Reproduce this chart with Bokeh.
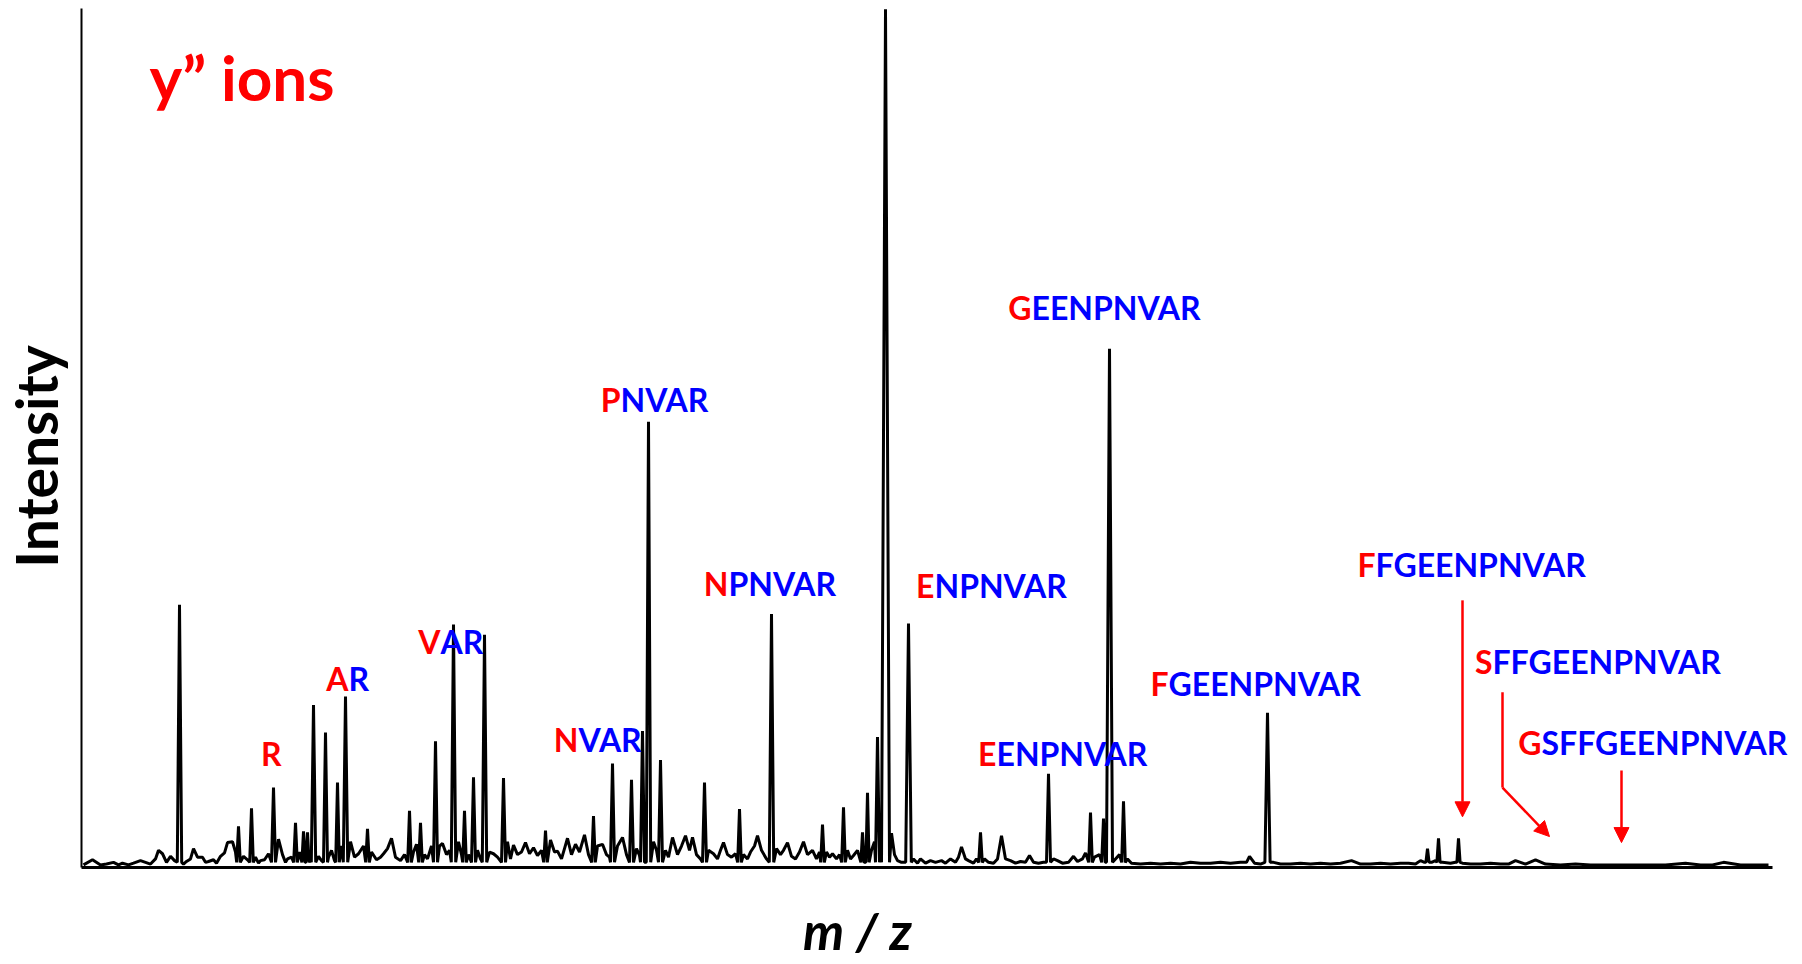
import math
from bokeh.plotting import figure
from bokeh.models import (Range1d, ColumnDataSource, LabelSet, Arrow, NormalHead,
                          LinearAxis, FixedTicker)
from bokeh.core.properties import value
from bokeh.embed import file_html
from bokeh.resources import INLINE

# ---------------- data (m/z axis in arbitrary units, intensity in % of base peak) ----------
# prominent peaks: centre, relative intensity, half-width of the profile peak
peak_mz = [98, 157, 170, 192, 214, 222, 226, 232, 244, 256, 264, 286, 328, 339, 354, 372,
           383, 392, 403, 422, 464, 512, 531, 550, 561, 567, 579, 623, 658, 690, 741, 762,
           781, 786, 796, 804, 827, 899, 967, 1009, 1022, 1028, 1042, 1186, 1346, 1357, 1377]
peak_int = [30.6, 4.8, 6.9, 9.3, 5.2, 4.2, 4.1, 18.9, 15.7, 9.9, 19.9, 4.5, 6.6, 5.2, 14.7, 28.3,
            6.6, 10.5, 27.1, 10.4, 4.3, 6.0, 12.1, 10.2, 15.9, 51.9, 12.5, 9.9, 6.8, 29.5, 5.0, 7.0,
            4.1, 8.7, 15.2, 99.9, 28.4, 4.1, 10.9, 6.4, 5.7, 60.4, 7.7, 18.0, 2.2, 3.4, 3.4]
peak_hw = [2.2, 1.8, 1.8, 2.0, 1.8, 1.6, 1.6, 2.2, 2.0, 1.8, 2.2, 1.8, 1.8, 1.8, 2.0, 2.2,
           1.8, 2.0, 2.2, 2.0, 1.8, 1.8, 2.0, 2.0, 2.0, 2.2, 2.0, 2.0, 1.8, 2.2, 1.8, 1.8,
           1.6, 1.6, 2.0, 4.0, 2.8, 1.8, 2.0, 1.8, 1.8, 3.0, 1.8, 2.6, 1.6, 1.6, 1.6]

# low-level chemical noise between the peaks
noise_mz = [2, 11, 19, 25, 32, 37, 41, 47, 52, 59, 64, 69, 74, 77, 81, 85, 89, 93,
            102, 105, 109, 112, 116, 121, 124, 127, 132, 135, 139, 143, 146, 151, 154,
            162, 166, 174, 177, 179, 183, 187, 197, 201, 204, 206, 210, 218, 229, 237, 240,
            247, 250, 253, 260, 269, 273, 277, 282, 290, 295, 299, 302, 306, 310, 314, 319,
            323, 332, 335, 343, 346, 350, 358, 361, 365, 368, 377, 380, 387, 396, 399, 408,
            412, 416, 426, 429, 432, 436, 440, 444, 448, 452, 456, 460, 469, 473, 476, 480,
            483, 486, 490, 494, 498, 503, 507, 516, 521, 525, 528, 536, 541, 545, 555, 558,
            572, 575, 584, 587, 591, 596, 600, 604, 608, 611, 615, 619, 627, 632, 636, 639,
            642, 646, 650, 654, 662, 666, 669, 673, 676, 680, 685, 695, 699, 702, 706, 710,
            714, 718, 722, 726, 731, 735, 738, 745, 748, 751, 755, 758, 766, 769, 772, 776,
            790, 793, 799, 810, 813, 816, 820, 832, 836, 839, 844, 849, 854, 860, 864, 869,
            874, 877, 880, 884, 887, 892, 895, 903, 907, 912, 916, 920, 924, 929, 934, 939,
            944, 948, 952, 957, 962, 972, 976, 981, 987, 992, 996, 1001, 1004, 1013, 1018,
            1034, 1038, 1046, 1050, 1059, 1069, 1079, 1089, 1099, 1109, 1119, 1129, 1139,
            1149, 1159, 1165, 1168, 1173, 1179, 1192, 1199, 1209, 1219, 1229, 1239, 1249,
            1259, 1270, 1279, 1289, 1299, 1309, 1319, 1327, 1334, 1339, 1343, 1350, 1354,
            1361, 1369, 1374, 1381, 1389, 1399, 1409, 1419, 1427, 1434, 1444, 1454, 1464,
            1479, 1494, 1509, 1524, 1539, 1554, 1569, 1584, 1604, 1619, 1631, 1642, 1659,
            1674, 1687]
noise_int = [0.3, 0.9, 0.3, 0.4, 0.6, 0.3, 0.5, 0.3, 0.5, 0.8, 0.6, 0.4, 1.0, 2.0, 1.6, 0.6, 1.3, 0.8,
             0.4, 0.7, 1.0, 2.2, 1.2, 1.2, 0.6, 0.7, 0.9, 0.5, 1.3, 1.7, 2.9, 3.0, 1.8,
             1.3, 0.9, 1.2, 0.5, 0.8, 0.9, 1.6, 3.3, 1.5, 0.6, 1.0, 1.2, 1.8, 1.0, 1.3, 0.8,
             1.2, 2.0, 0.8, 2.5, 3.0, 1.2, 1.6, 2.5, 1.8, 0.9, 1.2, 1.6, 2.2, 3.4, 1.2, 0.8,
             1.5, 1.8, 2.7, 1.5, 1.0, 2.5, 2.5, 2.8, 1.5, 2.0, 3.0, 1.5, 1.5, 2.0, 1.0, 1.8,
             1.6, 1.2, 3.0, 1.0, 2.6, 1.5, 1.8, 2.9, 1.6, 2.3, 1.4, 2.0, 3.2, 1.8, 1.9, 1.0,
             2.2, 3.4, 1.5, 2.7, 1.8, 3.8, 1.5, 2.5, 2.7, 1.5, 1.2, 2.5, 3.5, 1.5, 2.2, 1.4,
             3.0, 2.0, 2.0, 1.2, 3.5, 1.5, 2.5, 3.7, 2.0, 3.5, 1.5, 1.0, 2.0, 1.6, 1.0, 2.0,
             2.9, 1.5, 1.2, 1.6, 1.5, 1.0, 1.8, 2.5, 3.7, 2.0, 1.0, 2.2, 1.5, 2.0, 2.9, 1.3,
             1.0, 1.8, 3.0, 1.5, 2.0, 1.0, 1.8, 1.8, 1.2, 1.6, 1.0, 1.5, 2.0, 1.0, 1.4, 2.0,
             2.0, 3.0, 3.0, 4.0, 1.5, 0.8, 0.6, 1.0, 0.5, 1.0, 0.5, 0.8, 0.6, 0.8, 0.5, 1.0,
             0.6, 1.2, 2.4, 1.0, 0.8, 0.5, 1.0, 1.0, 0.6, 0.5, 1.0, 3.7, 1.0, 0.8, 0.5, 0.7,
             0.6, 1.4, 0.6, 0.5, 0.6, 1.0, 0.8, 0.5, 0.6, 1.3, 0.7, 1.0, 1.7, 1.2, 1.5,
             1.0, 1.5, 1.0, 0.5, 0.4, 0.5, 0.4, 0.5, 0.4, 0.6, 0.5, 0.5, 0.6,
             0.5, 0.6, 0.6, 1.3, 0.5, 0.4, 0.6, 0.4, 0.4, 0.5, 0.4, 0.5, 0.4,
             0.5, 0.8, 0.4, 0.4, 0.5, 0.4, 0.5, 0.5, 0.4, 0.8, 0.6, 0.6, 0.8,
             0.6, 0.5, 0.6, 0.5, 0.4, 0.4, 0.5, 0.4, 0.4, 0.8, 0.4, 0.9, 0.4,
             0.3, 0.4, 0.3, 0.3, 0.3, 0.3, 0.3, 0.3, 0.5, 0.3, 0.3, 0.6, 0.3,
             0.3, 0.3]

# y'' ion annotations: first residue (red) + remaining sequence (blue)
ion_first = ["R", "A", "V", "N", "P", "N", "E", "G", "E", "F", "F", "S", "G"]
ion_rest = ["", "R", "AR", "VAR", "NVAR", "PNVAR", "NPNVAR", "EENPNVAR", "ENPNVAR",
            "GEENPNVAR", "FGEENPNVAR", "FFGEENPNVAR", "SFFGEENPNVAR"]
# label anchor (junction between red and blue part) and baseline
ion_label_x = [200, 267, 359, 497, 539, 647, 853, 950, 915, 1087, 1294, 1411, 1460]
ion_label_y = [11.76, 20.49, 24.91, 13.50, 52.97, 31.66, 31.32, 63.68, 11.87, 20.02, 33.76, 22.58, 13.04]

# arrows for the weak high-mass ions
arrow_x0 = [1381, 1421, 1540]
arrow_y0 = [31.1, 9.3, 11.3]
arrow_x1 = [1381, 1468, 1540]
arrow_y1 = [5.9, 3.6, 2.9]
bend_x = [1421, 1421]
bend_y = [20.4, 9.3]

# ---------------- build profile line ----------------
pts = []
for m, h, w in zip(peak_mz, peak_int, peak_hw):
    pts += [(m - w, 0.6), (m, h), (m + w, 0.6)]
for m, h in zip(noise_mz, noise_int):
    pts.append((m, h))
pts.sort(key=lambda t: t[0])
spec = ColumnDataSource(dict(x=[a for a, _ in pts], y=[b for _, b in pts]))

W, H = 1800, 962
p = figure(width=W, height=H, output_backend="svg", toolbar_location=None, title=None,
           x_axis_type=None, y_axis_type=None,
           x_range=Range1d(-81, 1719), y_range=Range1d(-11.06, 100.93),
           min_border_left=0, min_border_right=0, min_border_top=0, min_border_bottom=0)
p.outline_line_color = None
p.grid.visible = False

yax = LinearAxis(fixed_location=0, bounds=(0, 100), ticker=FixedTicker(ticks=[]),
                 axis_line_width=2, axis_line_color="black",
                 major_tick_line_color=None, minor_tick_line_color=None)
xax = LinearAxis(fixed_location=0, bounds=(0, 1691), ticker=FixedTicker(ticks=[]),
                 axis_line_width=3, axis_line_color="black",
                 major_tick_line_color=None, minor_tick_line_color=None)
p.add_layout(yax, "left")
p.add_layout(xax, "below")

p.line("x", "y", source=spec, line_color="black", line_width=3)

FONT = "Lato"
red_src = ColumnDataSource(dict(x=ion_label_x, y=ion_label_y, t=ion_first))
blue_idx = [i for i, s in enumerate(ion_rest) if s]
blue_src = ColumnDataSource(dict(x=[ion_label_x[i] for i in blue_idx],
                                 y=[ion_label_y[i] for i in blue_idx],
                                 t=[ion_rest[i] for i in blue_idx]))
p.add_layout(LabelSet(x="x", y="y", text="t", source=red_src, text_align="right",
                      text_baseline="alphabetic", text_color="#FF0000", text_font=value(FONT),
                      text_font_style="bold", text_font_size="32px"))
p.add_layout(LabelSet(x="x", y="y", text="t", source=blue_src, text_align="left",
                      text_baseline="alphabetic", text_color="#0000FF", text_font=value(FONT),
                      text_font_style="bold", text_font_size="32px"))

# arrows
p.segment(x0=[bend_x[0]], y0=[bend_y[0]], x1=[bend_x[1]], y1=[bend_y[1]],
          line_color="#FF0000", line_width=2.5)
for x0, y0, x1, y1 in zip(arrow_x0, arrow_y0, arrow_x1, arrow_y1):
    p.add_layout(Arrow(x_start=x0, y_start=y0, x_end=x1, y_end=y1, line_color="#FF0000",
                       line_width=2.5,
                       end=NormalHead(size=15, fill_color="#FF0000", line_color="#FF0000",
                                      line_width=1)))


def single_label(x, y, text, size, color, style, angle=0.0, align="left"):
    src = ColumnDataSource(dict(x=[x], y=[y], t=[text]))
    p.add_layout(LabelSet(x="x", y="y", text="t", source=src, angle=angle,
                          text_align=align, text_baseline="alphabetic",
                          text_color=color, text_font=value(FONT),
                          text_font_style=style, text_font_size=size))


single_label(68, 89.2, "y\u201d ions", "62px", "#FF0000", "bold")
single_label(-23, 47.85, "Intensity", "57px", "black", "bold", angle=math.pi / 2, align="center")
single_label(776, -9.66, "m / z", "52px", "black", "bold italic", align="center")

open("out.html", "w").write(file_html(p, INLINE))
